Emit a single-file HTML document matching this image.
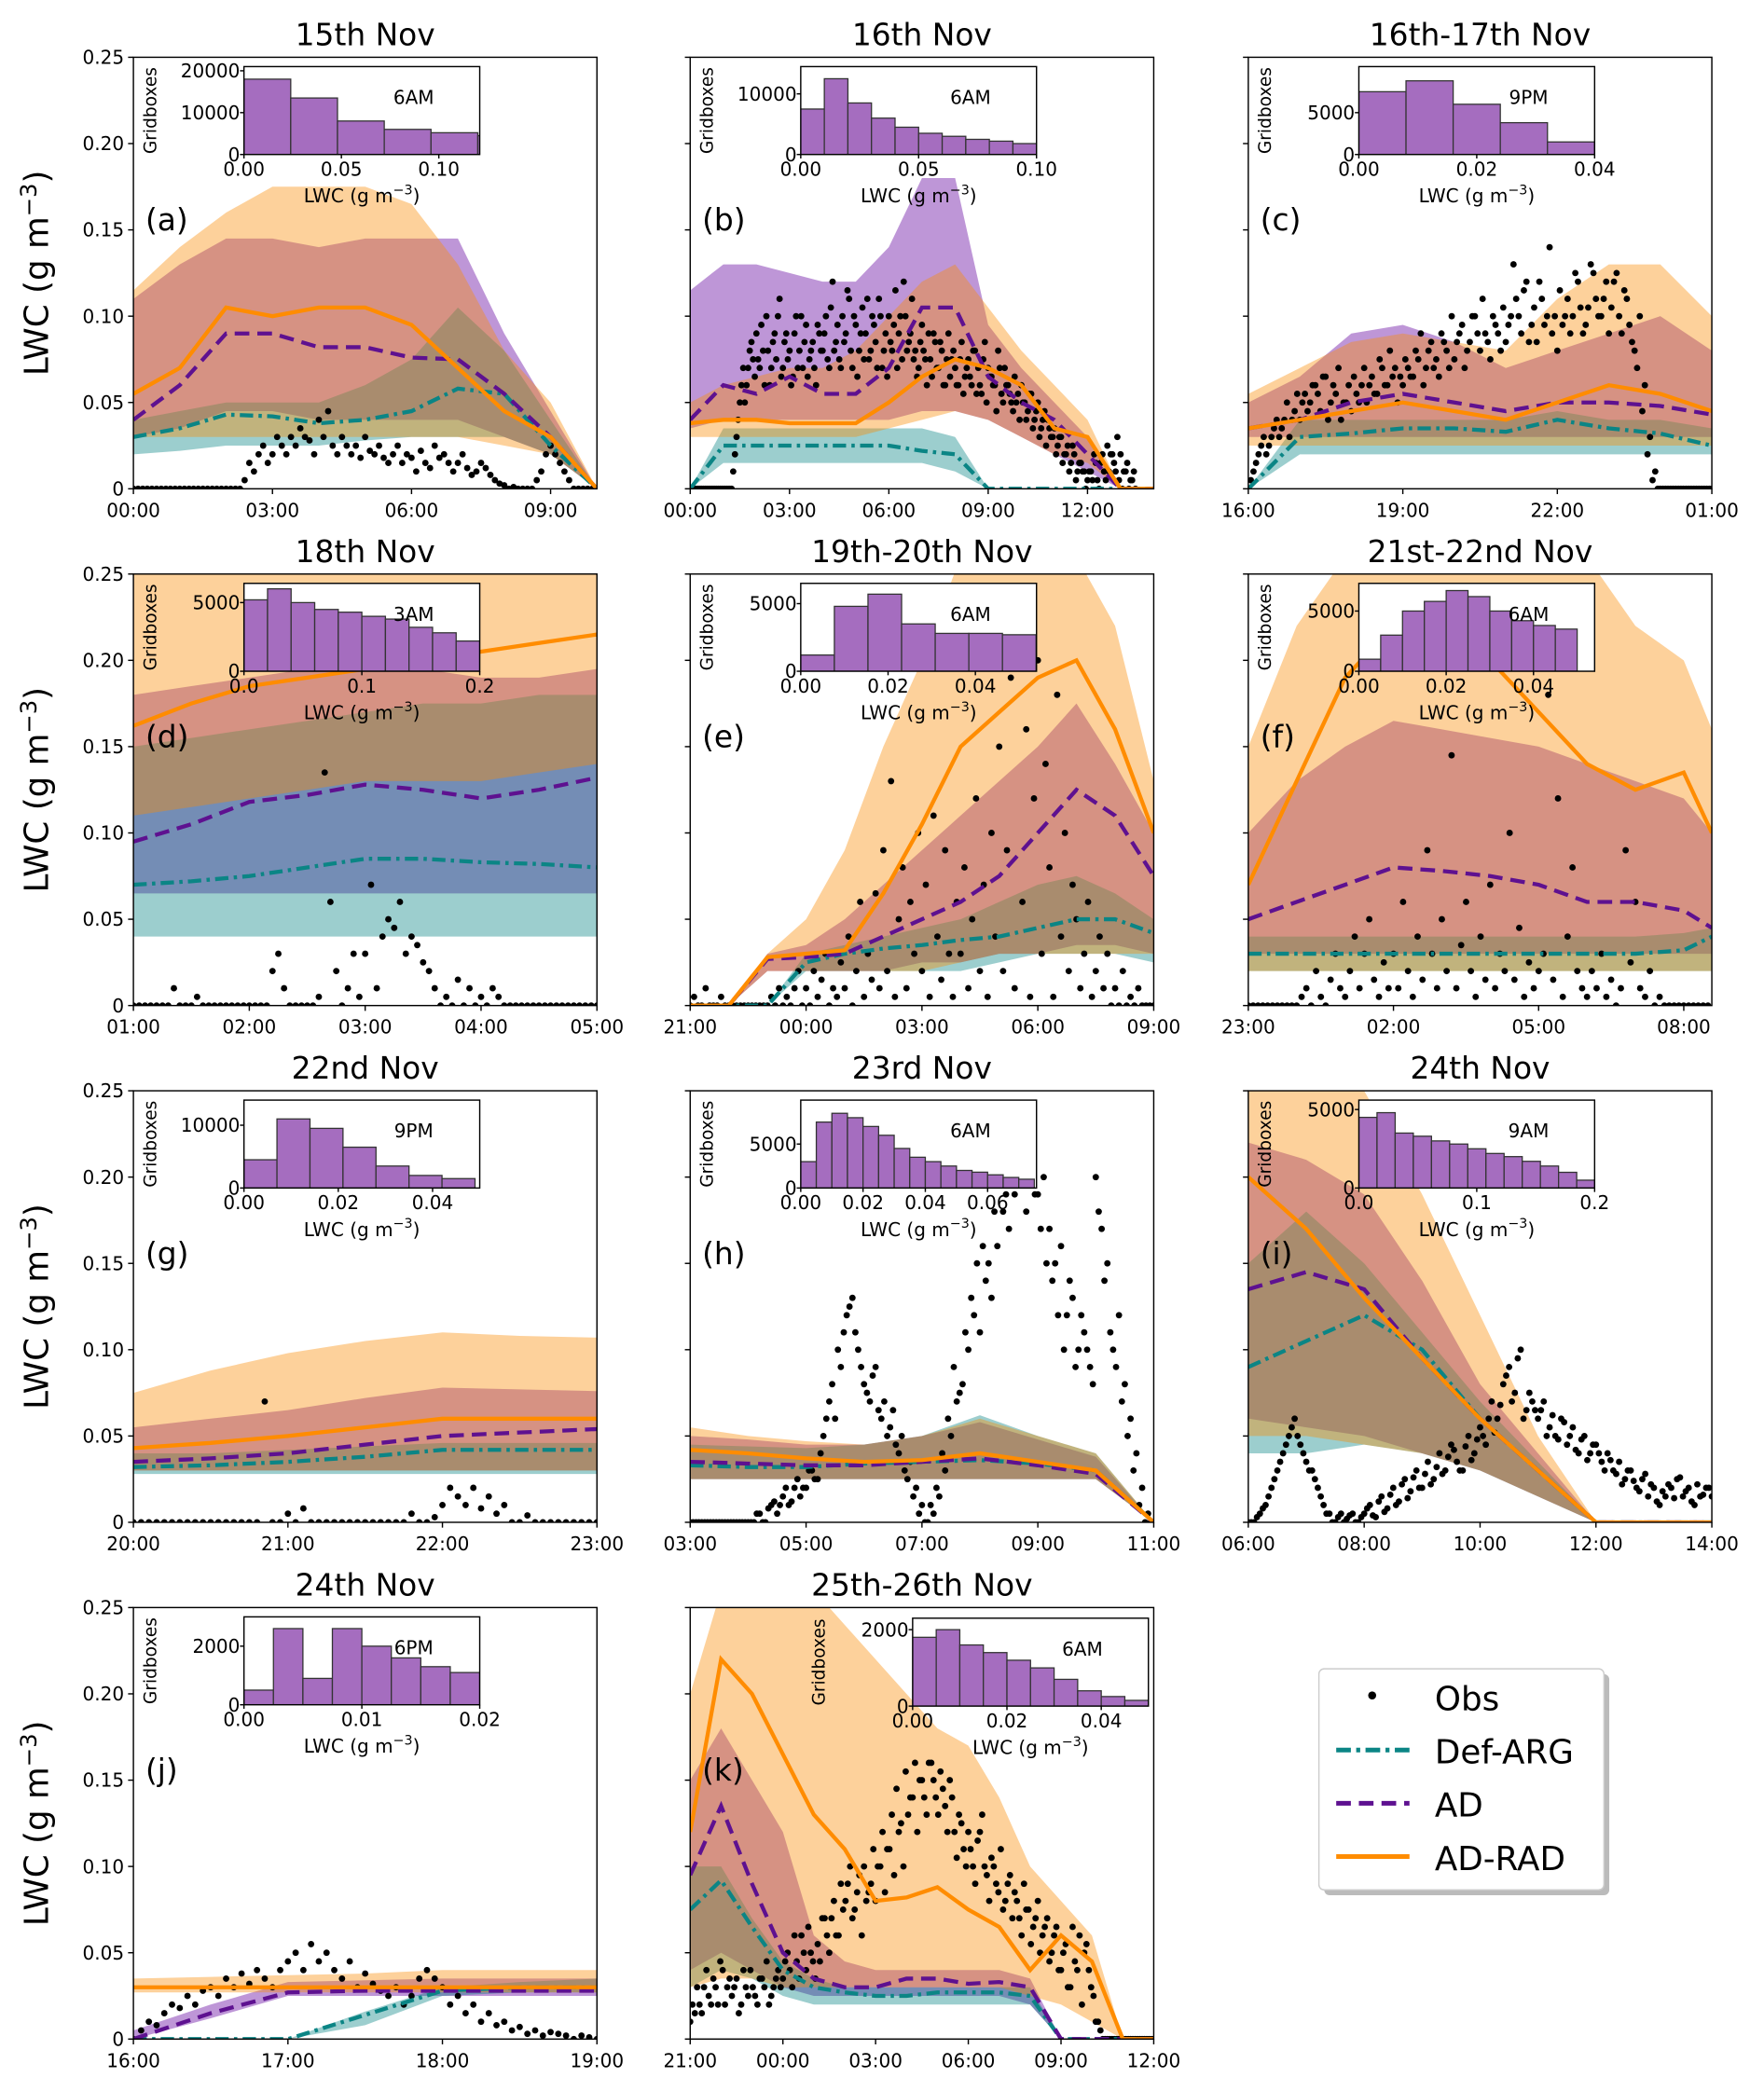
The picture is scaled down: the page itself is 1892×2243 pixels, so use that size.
<!DOCTYPE html>
<html><head><meta charset="utf-8"><style>
html,body{margin:0;padding:0;background:#fff;}
svg{display:block;font-family:"DejaVu Sans","Liberation Sans",sans-serif;}
</style></head><body>
<svg id="fig" width="1892" height="2243" viewBox="0 0 1324 1570" xmlns="http://www.w3.org/2000/svg"></svg>
<script>
const panelLetters=['a','b','c','d','e','f','g','h','i','j','k'];
const panelTitles=['15th Nov','16th Nov','16th-17th Nov','18th Nov','19th-20th Nov','21st-22nd Nov','22nd Nov','23rd Nov','24th Nov','24th Nov','25th-26th Nov'];
const xSpans=[10,14,9,4,12,9.58,3,8,8,3,15];
const tickHours=[[0,3,6,9],[0,3,6,9,12],[0,3,6,9],[0,1,2,3,4],[0,3,6,9,12],[0,3,6,9],[0,1,2,3],[0,2,4,6,8],[0,2,4,6,8],[0,1,2,3],[0,3,6,9,12,15]];
const tickLabels=[['00:00','03:00','06:00','09:00'],['00:00','03:00','06:00','09:00','12:00'],['16:00','19:00','22:00','01:00'],['01:00','02:00','03:00','04:00','05:00'],['21:00','00:00','03:00','06:00','09:00'],['23:00','02:00','05:00','08:00'],['20:00','21:00','22:00','23:00'],['03:00','05:00','07:00','09:00','11:00'],['06:00','08:00','10:00','12:00','14:00'],['16:00','17:00','18:00','19:00'],['21:00','00:00','03:00','06:00','09:00','12:00']];
const yTicks=[0,0.05,0.10,0.15,0.20,0.25];
const yTickLabels=['0','0.05','0.10','0.15','0.20','0.25'];
const modelT=[
[0,1,2,3,4,5,6,7,8,9,10],
[0,1,2,3,4,5,6,7,8,9,10,11,12,13,14],
[0,1,2,3,4,5,6,7,8,9],
[0,0.5,1,1.5,2,2.5,3,3.5,4],
[0,1,2,3,4,5,6,7,8,9,10,11,12],
[0,1,2,3,4,5,6,7,8,9,9.58],
[0,0.5,1,1.5,2,2.5,3],
[0,1,2,3,4,5,6,7,8],
[0,1,2,3,4,5,6,7,8],
[0,0.5,1,1.5,2,2.5,3],
[0,1,2,3,4,5,6,7,8,9,10,11,12,13,14,15]];
const adradMid=[
[.055,.07,.105,.1,.105,.105,.095,.07,.045,.03,0],
[.038,.04,.04,.038,.038,.038,.05,.065,.075,.07,.06,.035,.03,0,0],
[.035,.04,.045,.05,.045,.04,.05,.06,.055,.045],
[.162,.175,.185,.19,.195,.2,.205,.21,.215],
[0,0,.028,.03,.032,.065,.105,.15,.17,.19,.2,.16,.1],
[.07,.13,.19,.22,.22,.2,.17,.14,.125,.135,.1],
[.043,.046,.05,.055,.06,.06,.06],
[.042,.04,.037,.035,.036,.04,.035,.03,0],
[.2,.17,.13,.095,.06,.03,0,0,0],
[.03,.03,.03,.03,.03,.03,.03],
[.12,.22,.2,.165,.13,.11,.08,.082,.088,.075,.065,.04,.06,.045,0,0]];
const adradUp=[
[.115,.14,.16,.175,.175,.175,.165,.13,.08,.05,0],
[.05,.06,.065,.07,.07,.08,.1,.12,.13,.105,.08,.06,.04,0,0],
[.055,.07,.085,.09,.085,.08,.11,.13,.13,.1],
[.26,.26,.26,.26,.26,.26,.26,.26,.26],
[0,0,.03,.05,.09,.15,.2,.26,.26,.26,.26,.22,.13],
[.15,.22,.26,.26,.26,.26,.26,.26,.22,.2,.16],
[.075,.088,.098,.105,.11,.108,.107],
[.055,.05,.047,.045,.05,.06,.05,.04,0],
[.26,.26,.25,.19,.12,.05,0,0,0],
[.035,.036,.037,.038,.04,.04,.04],
[.2,.26,.26,.26,.26,.24,.22,.2,.18,.17,.14,.1,.08,.06,0,0]];
const adradLow=[
[.03,.03,.03,.03,.03,.03,.03,.03,.025,.02,0],
[.03,.03,.03,.03,.03,.03,.035,.04,.045,.04,.03,.02,.015,0,0],
[.025,.025,.025,.025,.025,.025,.025,.025,.025,.025],
[.11,.115,.12,.125,.13,.13,.13,.135,.14],
[0,0,.02,.02,.02,.02,.02,.025,.03,.03,.03,.03,.03],
[.02,.02,.02,.02,.02,.02,.02,.02,.02,.02,.02],
[.03,.03,.03,.03,.03,.03,.03],
[.025,.025,.025,.025,.025,.025,.025,.025,0],
[.05,.05,.045,.04,.03,.015,0,0,0],
[.027,.027,.027,.027,.027,.027,.027],
[.03,.035,.035,.03,.03,.03,.03,.03,.03,.03,.03,.025,.02,.01,0,0]];
const adMid=[
[.04,.06,.09,.09,.082,.082,.076,.075,.055,.03,0],
[.04,.06,.055,.065,.055,.055,.07,.105,.105,.065,.05,.04,.02,0,0],
[.035,.04,.05,.055,.05,.045,.05,.05,.048,.043],
[.095,.105,.118,.122,.128,.125,.12,.125,.132],
[0,0,.027,.028,.03,.04,.05,.06,.075,.1,.125,.11,.075],
[.05,.06,.07,.08,.078,.075,.07,.06,.06,.055,.045],
[.035,.037,.04,.045,.05,.052,.054],
[.035,.034,.033,.033,.035,.037,.033,.028,0],
[.135,.145,.135,.095,.06,.03,0,0,0],
[0,.015,.027,.028,.028,.028,.028],
[.095,.135,.09,.05,.035,.03,.03,.035,.035,.032,.033,.03,0,0,0,0]];
const adUp=[
[.11,.13,.145,.145,.14,.145,.145,.145,.09,.045,0],
[.115,.13,.13,.125,.12,.12,.14,.18,.18,.095,.07,.05,.03,0,0],
[.05,.065,.09,.095,.085,.07,.08,.09,.1,.08],
[.18,.185,.19,.195,.195,.195,.19,.19,.195],
[0,0,.03,.035,.05,.07,.09,.11,.13,.15,.175,.14,.1],
[.1,.13,.15,.165,.16,.155,.15,.14,.13,.12,.1],
[.055,.06,.065,.072,.078,.077,.076],
[.05,.048,.045,.045,.05,.058,.048,.038,0],
[.22,.21,.19,.14,.08,.04,0,0,0],
[.005,.02,.033,.034,.035,.035,.035],
[.15,.18,.15,.12,.06,.045,.04,.04,.04,.04,.04,.035,0,0,0,0]];
const adLow=[
[.03,.035,.045,.045,.04,.04,.04,.04,.03,.02,0],
[.035,.04,.04,.04,.04,.04,.04,.045,.045,.04,.03,.02,.01,0,0],
[.03,.03,.03,.03,.03,.03,.03,.03,.03,.03],
[.065,.065,.065,.065,.065,.065,.065,.065,.065],
[0,0,.02,.02,.02,.02,.025,.025,.03,.03,.035,.035,.03],
[.03,.03,.03,.03,.03,.03,.03,.03,.03,.03,.03],
[.03,.03,.03,.03,.03,.03,.03],
[.025,.025,.025,.025,.025,.025,.025,.025,0],
[.06,.055,.05,.04,.03,.015,0,0,0],
[0,.012,.025,.025,.025,.025,.025],
[.04,.05,.04,.03,.025,.025,.025,.025,.025,.025,.025,.02,0,0,0,0]];
const defMid=[
[.03,.035,.043,.042,.038,.04,.045,.058,.055,.025,0],
[0,.025,.025,.025,.025,.025,.025,.022,.02,0,0,0,0,0,0],
[0,.03,.032,.035,.035,.033,.04,.035,.032,.025],
[.07,.072,.075,.08,.085,.085,.083,.082,.08],
[0,0,0,.025,.03,.033,.035,.038,.04,.045,.05,.05,.042],
[.03,.03,.03,.03,.03,.03,.03,.03,.03,.032,.04],
[.032,.033,.035,.038,.042,.042,.042],
[.033,.032,.032,.034,.035,.036,.034,.03,0],
[.09,.105,.12,.1,.06,.03,0,0,0],
[0,0,0,.014,.028,.03,.03],
[.075,.092,.065,.04,.03,.027,.025,.025,.027,.027,.027,.025,0,0,0,0]];
const defUp=[
[.04,.045,.05,.05,.05,.06,.075,.105,.08,.04,0],
[0,.035,.035,.035,.035,.035,.035,.035,.03,0,0,0,0,0,0],
[0,.04,.04,.04,.04,.04,.045,.04,.04,.035],
[.15,.155,.16,.165,.17,.175,.175,.18,.18],
[0,0,0,.03,.035,.04,.045,.05,.06,.07,.075,.065,.05],
[.04,.04,.04,.04,.04,.04,.04,.04,.04,.042,.045],
[.04,.04,.042,.044,.046,.046,.046],
[.045,.044,.043,.045,.05,.062,.05,.04,0],
[.15,.18,.15,.11,.07,.035,0,0,0],
[0,0,0,.016,.03,.033,.035],
[.1,.1,.07,.045,.035,.03,.03,.03,.03,.03,.03,.03,0,0,0,0]];
const defLow=[
[.02,.022,.025,.025,.025,.028,.03,.03,.03,.02,0],
[0,.015,.015,.015,.015,.015,.015,.015,.01,0,0,0,0,0,0],
[0,.02,.02,.02,.02,.02,.02,.02,.02,.02],
[.04,.04,.04,.04,.04,.04,.04,.04,.04],
[0,0,0,.02,.02,.02,.02,.02,.025,.03,.03,.03,.025],
[.02,.02,.02,.02,.02,.02,.02,.02,.02,.02,.02],
[.028,.028,.028,.028,.028,.028,.028],
[.025,.025,.025,.025,.025,.025,.025,.025,0],
[.04,.04,.045,.04,.03,.015,0,0,0],
[0,0,0,.008,.025,.027,.027],
[.03,.04,.035,.025,.02,.02,.02,.02,.02,.02,.02,.02,0,0,0,0]];
const obsStep=[0.1,0.1,0.1,0.05,0.1,0.1,0.05,0.1,0.1,0.05,0.15];
const obsVals=[
[0,0,0,0,0,0,0,0,0,0,0,0,0,0,0,0,0,0,0,0,0,0,0,0,.005,.015,.01,.02,.025,.015,.02,.03,.025,.02,.03,.025,.035,.03,.028,.02,.04,.03,.045,.025,.02,.03,.025,.02,.025,.018,.03,.022,.02,.025,.018,.015,.02,.025,.015,.02,.018,.01,.022,.015,.012,.025,.018,.02,.015,.01,.015,.02,.012,.008,.01,.015,.012,.008,.005,.003,.002,0,.001,0,0,0,0,.005,.01,.02,.025,.02,.015,.01,.005,0,0,0,0,0,0],
[0,0,0,0,0,0,0,0,0,0,0,0,0,.01,.03,.05,.07,.06,.08,.075,.09,.07,.08,.1,.06,.085,.075,.11,.07,.09,.08,.065,.1,.08,.07,.095,.075,.085,.06,.09,.08,.1,.07,.12,.085,.075,.1,.09,.11,.07,.095,.08,.105,.09,.075,.1,.085,.11,.07,.09,.1,.08,.115,.09,.075,.1,.085,.11,.08,.07,.095,.075,.09,.065,.085,.07,.08,.06,.09,.075,.07,.06,.085,.065,.075,.06,.08,.07,.055,.085,.07,.065,.06,.08,.055,.07,.06,.05,.065,.055,.06,.05,.045,.055,.04,.05,.035,.045,.04,.03,.035,.025,.03,.02,.025,.015,.02,.01,.015,.01,.005,.01,.02,.005,.015,.01,.025,.02,.015,.03,.02,.01,.015,.005,.01],
[0,.01,.02,.03,.025,.035,.03,.04,.03,.045,.04,.055,.05,.06,.045,.065,.05,.055,.04,.05,.045,.055,.06,.05,.065,.055,.07,.06,.065,.05,.06,.07,.065,.075,.06,.08,.07,.065,.085,.07,.075,.09,.07,.085,.1,.08,.09,.075,.095,.08,.085,.1,.11,.09,.12,.095,.085,.11,.1,.09,.08,.095,.11,.1,.12,.09,.105,.125,.1,.11,.09,.12,.1,.115,.095,.08,.1,.06,.03,.01,0,0,0,0,0,0,0,0,0,0,0],
[0,0,0,0,0,0,0,.01,0,0,0,.005,0,0,0,0,0,0,0,0,0,0,0,0,.02,.03,.01,0,0,0,0,0,.005,.135,.06,.02,0,.01,.03,.005,.03,.07,.01,.04,.05,.045,.06,.03,.04,.035,.025,.02,.01,0,.005,0,.015,0,.01,0,.005,0,.01,.005,0,0,0,0,0,0,0,0,0,0,0,0,0,0,0,0,0],
[0,.005,0,0,.01,0,0,0,.005,0,0,0,0,0,0,0,0,0,0,0,0,.005,0,.01,0,.005,0,.01,.02,0,.01,0,.02,.005,.015,.03,0,.01,.005,.025,.01,.04,0,.02,.06,.005,.03,.015,.065,.01,.09,.02,.13,.005,.05,.08,.01,.06,.03,.1,.02,.07,.005,.11,.04,.015,.09,.03,.005,.06,.03,.08,.01,.05,.12,.02,.07,.005,.1,.04,.15,.02,.09,.19,.01,.21,.06,.16,.005,.12,.2,.03,.14,.08,.005,.18,.04,.1,.02,.07,.05,.01,.03,.06,.005,.02,.04,.01,.03,0,.01,0,.02,0,.005,0,.01,0,0,0,0],
[0,0,0,0,0,0,0,0,0,0,0,.005,.01,0,.02,.005,0,.015,.03,.01,.005,.02,.04,.01,.03,.05,.015,.005,.025,.01,.03,.01,.06,.02,.005,.04,.015,.09,.03,.01,.05,.02,.145,.01,.035,.06,.02,.005,.04,.015,.07,.01,.03,.02,.1,.015,.045,.005,.025,.01,.02,.03,.18,.015,.12,.005,.04,.08,.02,.01,.005,.02,.01,.03,.005,.015,0,.01,.09,.025,.06,.01,.005,.02,0,.005,0,0,0,0,0,0,0,0,0,0],
[0,0,0,0,0,0,0,0,0,0,0,0,0,0,0,0,0,.07,0,0,.005,0,.008,0,0,0,0,0,0,0,0,0,0,0,0,0,.005,0,0,.003,.01,.02,.015,.01,.02,.008,.015,.005,.01,0,0,.004,0,0,0,0,0,0,0,0,0],
[0,0,0,0,0,0,0,0,0,0,0,0,.005,0,.01,.005,.015,.01,.02,.015,.02,.03,.025,.05,.07,.06,.09,.12,.13,.1,.08,.07,.09,.06,.05,.065,.04,.03,.035,.02,.01,0,.005,.015,.03,.05,.07,.08,.1,.12,.11,.14,.13,.16,.18,.17,.19,.2,.18,.22,.19,.2,.17,.15,.16,.12,.13,.1,.11,.09,.2,.17,.15,.1,.12,.08,.06,.04,.02,.005,0],
[0,0,.005,.01,.02,.03,.04,.05,.06,.045,.035,.03,.02,.01,.005,0,.005,.002,.005,0,.005,.01,.003,.015,.008,.02,.012,.025,.018,.03,.02,.035,.025,.04,.03,.045,.035,.03,.05,.04,.055,.045,.07,.06,.08,.09,.075,.1,.065,.07,.06,.07,.055,.05,.06,.045,.055,.04,.05,.04,.045,.035,.04,.03,.035,.025,.03,.02,.025,.015,.02,.01,.015,.02,.025,.015,.02,.01,.015,.02,.015],
[0,.005,.01,.008,.015,.02,.018,.025,.02,.028,.03,.025,.035,.03,.038,.032,.04,.035,.03,.04,.045,.05,.04,.055,.045,.05,.04,.035,.045,.03,.038,.032,.028,.025,.03,.02,.025,.035,.04,.035,.03,.02,.025,.015,.02,.01,.015,.008,.01,.005,.007,.003,.005,.002,.004,.003,.002,0,.002,.001,0],
[.01,.015,.02,.03,.025,.035,.02,.04,.03,.025,.035,.02,.03,.04,.025,.035,.03,.02,.03,.04,.035,.05,.03,.045,.06,.04,.05,.035,.045,.07,.05,.08,.06,.075,.09,.07,.085,.06,.08,.09,.08,.1,.085,.11,.095,.12,.1,.13,.14,.12,.15,.13,.16,.14,.155,.135,.15,.12,.13,.11,.12,.1,.115,.13,.095,.105,.09,.11,.08,.095,.085,.07,.09,.075,.065,.08,.06,.07,.05,.065,.04,.055,.03,.045,.06,.05,.04,.025,.01,0,0,0,0,0,0,0,0,0,0,0,0]];
const obsVals2=[
[],
[0,0,0,0,0,0,0,0,0,0,0,0,0,.02,.04,.06,.05,.07,.085,.065,.075,.095,.06,.08,.07,.09,.1,.065,.085,.075,.06,.09,.07,.1,.085,.065,.08,.07,.095,.08,.09,.075,.105,.08,.095,.07,.085,.115,.08,.1,.065,.09,.075,.11,.08,.095,.07,.1,.08,.065,.085,.095,.07,.1,.12,.08,.09,.075,.065,.085,.08,.06,.075,.09,.07,.085,.06,.075,.065,.08,.06,.075,.055,.07,.065,.08,.055,.06,.075,.05,.065,.06,.045,.07,.05,.06,.055,.045,.05,.04,.05,.04,.055,.035,.045,.03,.04,.025,.035,.03,.02,.03,.015,.02,.01,.025,.005,.015,.01,0,.01,.005,.015,0,.02,.005,.01,.02,.01,.005,0,.01,0,.005,0],
[.005,.015,.025,.02,.03,.04,.035,.05,.04,.055,.05,.045,.06,.055,.065,.04,.06,.07,.05,.06,.065,.05,.07,.06,.055,.075,.06,.08,.07,.065,.075,.065,.08,.09,.07,.085,.075,.09,.08,.1,.085,.095,.08,.1,.09,.11,.085,.1,.09,.105,.095,.13,.1,.115,.085,.105,.12,.095,.14,.1,.115,.1,.09,.125,.105,.095,.13,.11,.1,.12,.105,.125,.09,.11,.085,.07,.045,.02,.005,0,0,0,0,0,0,0,0,0,0,0,0],
[],[],[],[],
[0,0,0,0,0,0,0,0,0,0,0,.005,0,.008,.012,.01,.02,.012,.025,.02,.03,.025,.04,.06,.08,.1,.11,.125,.11,.09,.075,.085,.065,.07,.055,.045,.05,.025,.015,.005,0,.01,.02,.04,.06,.09,.075,.11,.13,.15,.16,.15,.18,.2,.19,.21,.22,.2,.23,.19,.17,.15,.14,.12,.1,.14,.09,.12,.1,.08,.18,.14,.11,.09,.07,.05,.03,.01,0,0,0],
[0,.003,.008,.015,.025,.035,.045,.055,.05,.04,.03,.025,.015,.005,0,.003,0,.004,0,.003,.008,.004,.012,.006,.016,.01,.022,.014,.026,.02,.028,.022,.032,.028,.038,.042,.03,.044,.036,.048,.05,.06,.052,.068,.085,.07,.095,.06,.075,.065,.065,.05,.062,.048,.058,.05,.042,.048,.036,.045,.04,.03,.036,.028,.022,.03,.024,.018,.028,.022,.012,.018,.022,.014,.026,.018,.012,.022,.016,.02,.018],
[],
[.02,.03,.015,.04,.02,.03,.045,.02,.035,.03,.015,.04,.025,.03,.02,.035,.045,.025,.035,.03,.045,.04,.06,.035,.05,.065,.045,.055,.07,.06,.07,.06,.09,.08,.1,.075,.095,.1,.085,.11,.1,.12,.11,.13,.145,.125,.155,.14,.16,.15,.14,.16,.15,.13,.145,.12,.14,.105,.125,.1,.11,.09,.12,.1,.08,.1,.085,.075,.09,.07,.08,.06,.075,.055,.07,.05,.065,.045,.06,.04,.05,.03,.065,.04,.02,.055,.03,.01,.005,0,0,0,0,0,0,0,0,0,0,0,0]];
const histCounts=[
[18000,13500,8000,6000,5200,4500],
[7500,12500,8500,6000,4500,3500,3000,2500,2200,1800],
[7500,8800,6000,3800,1500],
[5200,6000,5000,4500,4300,4000,3800,3200,2800,2200],
[1200,4800,5700,3500,2800,2800,2700],
[1000,3000,5000,5800,6700,6200,5000,4200,3800,3500],
[4500,11000,9500,6500,3500,2000,1500],
[3000,7500,8500,8000,7000,6000,4500,3500,3000,2500,2000,1800,1500,1200,1000],
[4500,4800,3500,3300,3000,2800,2500,2200,2000,1700,1400,1000,500],
[500,2600,900,2600,2000,1600,1300,1100],
[1800,2000,1600,1400,1200,1000,700,400,250,150]];
const histBinWidth=[0.024,0.01,0.008,0.02,0.0077,0.005,0.007,0.005,0.0154,0.0025,0.005];
const histXMax=[0.121,0.10,0.04,0.2,0.054,0.054,0.05,0.0757,0.2,0.02,0.05];
const histYMax=[21000,14500,10500,6400,6500,7300,14000,10000,5600,3000,2300];
const histYTicks=[[0,10000,20000],[0,10000],[0,5000],[0,5000],[0,5000],[0,5000],[0,10000],[0,5000],[0,5000],[0,2000],[0,2000]];
const histXTicks=[[0,0.05,0.10],[0,0.05,0.10],[0,0.02,0.04],[0,0.1,0.2],[0,0.02,0.04],[0,0.02,0.04],[0,0.02,0.04],[0,0.02,0.04,0.06],[0,0.1,0.2],[0,0.01,0.02],[0,0.02,0.04]];
const histXTickLabels=[['0.00','0.05','0.10'],['0.00','0.05','0.10'],['0.00','0.02','0.04'],['0.0','0.1','0.2'],['0.00','0.02','0.04'],['0.00','0.02','0.04'],['0.00','0.02','0.04'],['0.00','0.02','0.04','0.06'],['0.0','0.1','0.2'],['0.00','0.01','0.02'],['0.00','0.02','0.04']];
const histTimeLabel=['6AM','6AM','9PM','3AM','6AM','6AM','9PM','6AM','9AM','6PM','6AM'];

const NS='http://www.w3.org/2000/svg';
const svg=document.getElementById('fig');
function mk(tag,attrs,parent){const e=document.createElementNS(NS,tag);for(const k in attrs)e.setAttribute(k,attrs[k]);(parent||svg).appendChild(e);return e;}
function txt(s,attrs,parent){const e=mk('text',attrs,parent);e.textContent=s;return e;}
const colL=[100,518,937], rowT=[43,431,819,1207], W=348, H=324;
const OR='#ff8c00', PU='#5e1190', TE='#0b8585';

for(let p=0;p<11;p++){
  const L=colL[p%3], T=rowT[Math.floor(p/3)];
  const g=mk('g',{});
  
  
  const xs=h=>L+h/xSpans[p]*W, ys=v=>T+H-v/0.25*H;
  const cp=mk('clipPath',{id:'cp'+p},g);
  mk('rect',{x:L,y:T,width:W,height:H},cp);
  const plot=mk('g',{'clip-path':'url(#cp'+p+')'},g);
  function band(up,low,fill,op,name){
    let d='';const t=modelT[p];
    for(let i=0;i<t.length;i++)d+=(i?'L':'M')+xs(t[i]).toFixed(1)+','+ys(up[p][i]).toFixed(1);
    for(let i=t.length-1;i>=0;i--)d+='L'+xs(t[i]).toFixed(1)+','+ys(low[p][i]).toFixed(1);
    const e=mk('path',{d:d+'Z',fill:fill,'fill-opacity':op},plot);
    
    
  }
  band(adUp,adLow,'#6f16a6',0.45,'ad-range');
  band(defUp,defLow,'#008080',0.39,'def-arg-range');
  band(adradUp,adradLow,'#fa8c05',0.4,'ad-rad-range');
  const og=mk('g',{fill:'#000'},plot);
  
  
  obsVals[p].forEach((v,i)=>{
    const c=mk('circle',{cx:xs(i*obsStep[p]).toFixed(1),cy:ys(v).toFixed(1),r:2.4},og);
    
    
  });
  obsVals2[p].forEach((v,i)=>{
    const c=mk('circle',{cx:xs((i+0.5)*obsStep[p]).toFixed(1),cy:ys(v).toFixed(1),r:2.4},og);
    
    
  });
  function line(mid,col,dash,name){
    const t=modelT[p];let d='';
    for(let i=0;i<t.length;i++)d+=(i?'L':'M')+xs(t[i]).toFixed(1)+','+ys(mid[p][i]).toFixed(1);
    const a={d:d,fill:'none',stroke:col,'stroke-width':3};if(dash)a['stroke-dasharray']=dash;
    const e=mk('path',a,plot);
    
    
  }
  line(defMid,TE,'10,4,2.5,4','def-arg-line');
  line(adMid,PU,'11,6','ad-line');
  line(adradMid,OR,null,'ad-rad-line');
  const fr=mk('rect',{x:L,y:T,width:W,height:H,fill:'none',stroke:'#000','stroke-width':1},g);
  
  
  yTicks.forEach((v,i)=>{
    mk('line',{x1:L-4,x2:L,y1:ys(v),y2:ys(v),stroke:'#000','stroke-width':1},g);
    if(p%3===0){const e=txt(yTickLabels[i],{x:L-7,y:ys(v)+5,'font-size':14,'text-anchor':'end'},g);
      }
  });
  tickHours[p].forEach((h,i)=>{
    mk('line',{x1:xs(h),x2:xs(h),y1:T+H,y2:T+H+4,stroke:'#000','stroke-width':1},g);
    const e=txt(tickLabels[p][i],{x:xs(h),y:T+H+21,'font-size':14,'text-anchor':'middle'},g);
    
  });
  const ti=txt(panelTitles[p],{x:L+W/2,y:T-9,'font-size':23,'text-anchor':'middle'},g);
  
  const pl=txt('('+panelLetters[p]+')',{x:L+9,y:T+130,'font-size':23},g);
  
  const IL=L+(p===10?167:83), IT=T+(p===10?8:7), IW=177, IH=66;
  const ig=mk('g',{},g);
  
  
  mk('rect',{x:IL,y:IT,width:IW,height:IH,fill:'#fff'},ig);
  const hx=v=>IL+v/histXMax[p]*IW, hy=c=>IT+IH-c/histYMax[p]*IH;
  const icp=mk('clipPath',{id:'icp'+p},ig);mk('rect',{x:IL,y:IT,width:IW,height:IH},icp);
  const bg=mk('g',{'clip-path':'url(#icp'+p+')'},ig);
  histCounts[p].forEach((c,i)=>{
    const b=mk('rect',{x:hx(i*histBinWidth[p]),y:hy(c),width:hx(histBinWidth[p])-IL,height:IT+IH-hy(c),fill:'#a56dbf',stroke:'#333','stroke-width':0.9},bg);
    
    
  });
  mk('rect',{x:IL,y:IT,width:IW,height:IH,fill:'none',stroke:'#000','stroke-width':1},ig);
  histYTicks[p].forEach(v=>{
    mk('line',{x1:IL-3,x2:IL,y1:hy(v),y2:hy(v),stroke:'#000'},ig);
    txt(String(v),{x:IL-3,y:hy(v)+5,'font-size':14,'text-anchor':'end'},ig);
  });
  histXTicks[p].forEach((v,i)=>{
    mk('line',{x1:hx(v),x2:hx(v),y1:IT+IH,y2:IT+IH+3,stroke:'#000'},ig);
    txt(histXTickLabels[p][i],{x:hx(v),y:IT+IH+16,'font-size':14,'text-anchor':'middle'},ig);
  });
  txt(histTimeLabel[p],{x:IL+IW*0.72,y:IT+28,'font-size':14,'text-anchor':'middle'},ig);
  const gx=IL-66, gy=IT+IH/2;
  txt('Gridboxes',{x:gx,y:gy,'font-size':13,'text-anchor':'middle',transform:'rotate(-90 '+gx+' '+gy+')'},ig);
  const xl=mk('text',{x:IL+IW/2,y:IT+IH+36,'font-size':14,'text-anchor':'middle'},ig);
  xl.innerHTML='LWC (g m<tspan dy="-6" font-size="10">−3</tspan><tspan dy="6">)</tspan>';
}
rowT.forEach(T=>{
  const cy=T+H/2;
  const e=mk('text',{x:36,y:cy,'font-size':25,'text-anchor':'middle',transform:'rotate(-90 36 '+cy+')'});
  e.innerHTML='LWC (g m<tspan dy="-9" font-size="17">−3</tspan><tspan dy="9">)</tspan>';
  
  
});
const lg=mk('g',{});


mk('rect',{x:994,y:1257,width:214,height:166,rx:4,fill:'#bbb'},lg);
mk('rect',{x:990,y:1253,width:214,height:166,rx:4,fill:'#fff',stroke:'#ccc'},lg);
const le=[['Obs',1276],['Def-ARG',1316],['AD',1356],['AD-RAD',1396]];
mk('circle',{cx:1030,cy:1273,r:3,fill:'#000'},lg);
mk('line',{x1:1003,x2:1058,y1:1314,y2:1314,stroke:TE,'stroke-width':3.5,'stroke-dasharray':'11,4,3,4'},lg);
mk('line',{x1:1003,x2:1058,y1:1354,y2:1354,stroke:PU,'stroke-width':3.5,'stroke-dasharray':'11,6'},lg);
mk('line',{x1:1003,x2:1058,y1:1394,y2:1394,stroke:OR,'stroke-width':3.5},lg);
le.forEach(([s,y])=>{const e=txt(s,{x:1077,y:y+8,'font-size':25},lg);
  });
</script>
</body></html>
